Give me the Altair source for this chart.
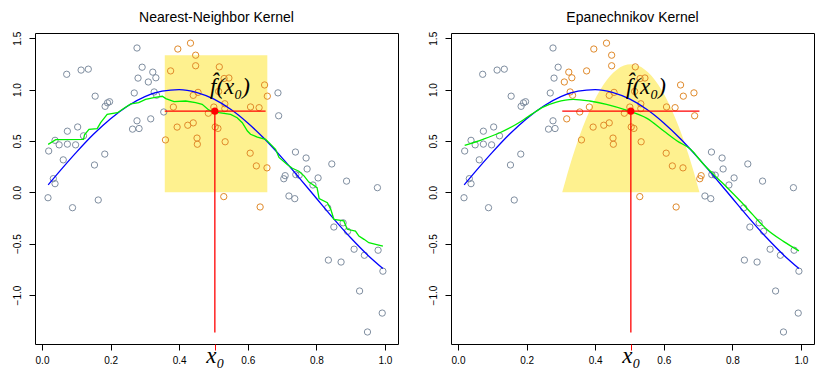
import altair as alt
import pandas as pd

# ---- data ----
pt_x = [0.0175, 0.0195, 0.033, 0.038, 0.038, 0.050, 0.062, 0.072, 0.074, 0.074,
        0.089, 0.098, 0.104, 0.114, 0.121, 0.135, 0.153, 0.155, 0.164, 0.183,
        0.184, 0.191, 0.197, 0.264, 0.269, 0.277, 0.283, 0.277, 0.280, 0.292,
        0.310, 0.317, 0.323, 0.332, 0.327, 0.334, 0.355,
        0.360, 0.375, 0.383, 0.394, 0.396, 0.425, 0.433, 0.441, 0.441, 0.448,
        0.448, 0.452, 0.453, 0.455, 0.485, 0.501, 0.505, 0.513, 0.515, 0.517,
        0.530, 0.531, 0.545, 0.533, 0.533, 0.534, 0.607, 0.608, 0.625, 0.633,
        0.636, 0.649, 0.656, 0.657,
        0.688, 0.690, 0.705, 0.709, 0.720, 0.737, 0.739, 0.740, 0.750, 0.770,
        0.773, 0.790, 0.805, 0.833, 0.835, 0.845, 0.851, 0.872, 0.878, 0.888,
        0.891, 0.910, 0.926, 0.940, 0.949, 0.978, 0.980, 0.992, 0.994]
pt_y = [-0.053, 0.402, 0.133, 0.084, 0.506, 0.462, 0.316, 1.149, 0.595, 0.469,
        -0.150, 0.462, 0.636, 1.190, 0.550, 1.199, 0.266, 0.936, -0.075, 0.372,
        0.837, 0.871, 0.882, 0.615, 0.967, 0.696, 0.621, 1.405, 1.112, 1.218,
        1.074, 0.715, 1.170, 1.115, 0.977, 0.945, 0.782,
        0.510, 1.182, 0.830, 0.635, 1.395, 0.653, 1.452, 0.676, 0.944, 1.335,
        1.232, 0.528, 0.468, 0.973, 0.770, 0.830, 0.636, 0.622, 0.982, 1.221,
        -0.042, 1.108, 1.113, 0.862, 0.815, 0.492, 0.381, 0.831, 0.257, 0.824,
        -0.143, 1.045, 0.238, 0.936,
        0.968, 0.745, 0.132, 0.162, -0.036, -0.062, 0.392, 0.172, 0.167, 0.334,
        0.227, 0.071, 0.140, -0.152, -0.660, 0.276, -0.338, -0.679, -0.297, 0.109,
        -0.380, -0.554, -0.961, -0.613, -1.360, 0.045, -0.564, -1.176, -0.768]

true_x = [0.018, 0.05, 0.10, 0.15, 0.20, 0.25, 0.30, 0.35, 0.40, 0.45, 0.50,
          0.55, 0.60, 0.65, 0.70, 0.75, 0.80, 0.85, 0.90, 0.95, 0.994]
true_y = [0.072, 0.199, 0.389, 0.565, 0.717, 0.841, 0.932, 0.985, 1.000, 0.974, 0.909,
          0.808, 0.675, 0.516, 0.335, 0.141, -0.058, -0.256, -0.443, -0.612, -0.742]

knn_x = [0.018, 0.040, 0.121, 0.124, 0.137, 0.161, 0.171, 0.190, 0.220, 0.239,
         0.259, 0.282, 0.302, 0.326, 0.351, 0.361, 0.385, 0.419, 0.448, 0.467,
         0.487, 0.516, 0.550, 0.569, 0.584, 0.599, 0.608, 0.628, 0.652, 0.667,
         0.681, 0.691, 0.715, 0.730, 0.749, 0.764, 0.778, 0.788, 0.802, 0.808,
         0.832, 0.842, 0.851, 0.880, 0.890, 0.914, 0.924, 0.939, 0.953, 0.973, 0.994]
knn_y = [0.467, 0.512, 0.515, 0.560, 0.613, 0.620, 0.678, 0.759, 0.775, 0.818,
         0.860, 0.873, 0.905, 0.921, 0.935, 0.912, 0.882, 0.889, 0.873, 0.857,
         0.800, 0.775, 0.759, 0.726, 0.678, 0.597, 0.565, 0.538, 0.516, 0.467,
         0.419, 0.340, 0.270, 0.234, 0.205, 0.160, 0.100, 0.078, 0.045, -0.060,
         -0.101, -0.166, -0.263, -0.279, -0.360, -0.377, -0.426, -0.458, -0.491, -0.506, -0.523]

epa_x = [0.0195, 0.073, 0.122, 0.170, 0.214, 0.248, 0.287, 0.336, 0.384, 0.433,
         0.491, 0.551, 0.600, 0.639, 0.678, 0.716, 0.755, 0.785, 0.823, 0.860,
         0.900, 0.950, 0.994]
epa_y = [0.457, 0.516, 0.580, 0.662, 0.759, 0.830, 0.879, 0.905, 0.889, 0.857,
         0.800, 0.720, 0.597, 0.500, 0.419, 0.273, 0.142, 0.045, -0.085, -0.220,
         -0.360, -0.480, -0.570]

kern_x = [0.304, 0.324, 0.344, 0.364, 0.384, 0.404, 0.424, 0.444, 0.464, 0.484, 0.504,
          0.524, 0.544, 0.564, 0.584, 0.604, 0.624, 0.644, 0.664, 0.684, 0.704]
kern_y = [0.0, 0.237, 0.449, 0.635, 0.797, 0.935, 1.047, 1.134, 1.196, 1.234, 1.246,
          1.234, 1.196, 1.134, 1.047, 0.935, 0.797, 0.635, 0.449, 0.237, 0.0]

x0 = 0.504
fhat = 0.79
knn_box = [0.358, 0.657, 0.0, 1.334]
knn_seg = [0.358, 0.652]
epa_seg = [0.304, 0.704]
knn_window = [0.357, 0.660]
epa_window = [0.300, 0.715]
vline_bottom = -1.365
titles = ["Nearest-Neighbor Kernel", "Epanechnikov Kernel"]
x_ticks = [0.0, 0.2, 0.4, x0, 0.6, 0.8, 1.0]
y_ticks = [-1.0, -0.5, 0.0, 0.5, 1.0, 1.5]

# ---- styling ----
GRAY = "#7f8ea0"
ORANGE = "#e08a2b"
YELLOW = "#fef18f"
W, H = 363, 311

xscale = alt.Scale(domain=[-0.0204, 1.038], nice=False, zero=False)
yscale = alt.Scale(domain=[-1.477, 1.551], nice=False, zero=False)
is_x0 = "abs(datum.value - %s) < 0.001" % x0

xaxis = alt.Axis(
    values=x_ticks, title=None, grid=False, domain=False,
    labelExpr="abs(datum.value - %s) < 0.001 ? 'x\u2080' : format(datum.value, '.1f')" % x0,
    labelFontSize={"condition": {"test": is_x0, "value": 23}, "value": 10},
    labelFont={"condition": {"test": is_x0, "value": "Liberation Serif"}, "value": "Liberation Sans"},
    labelFontStyle={"condition": {"test": is_x0, "value": "italic"}, "value": "normal"},
    labelBaseline={"condition": {"test": is_x0, "value": "middle"}, "value": "top"},
    tickColor={"condition": {"test": is_x0, "value": "red"}, "value": "black"},
    tickSize=6, labelPadding=5, labelColor="black", minExtent=20, maxExtent=20,
    labelFlush=False, labelOverlap=False,
)
yaxis = alt.Axis(
    values=y_ticks, format=".1f", title=None, grid=False, domain=False,
    labelAngle=270, labelAlign="center", labelBaseline="bottom",
    labelFontSize=10, labelFont="Liberation Sans", labelColor="black",
    tickSize=6, tickColor="black", labelPadding=7, minExtent=23, maxExtent=23,
    labelFlush=False, labelOverlap=False,
)

pts = pd.DataFrame({"x": pt_x, "y": pt_y})
truth = pd.DataFrame({"x": true_x, "y": true_y})


def X(field="x"):
    return alt.X(f"{field}:Q", scale=xscale, axis=xaxis)


def Y(field="y"):
    return alt.Y(f"{field}:Q", scale=yscale, axis=yaxis)


def panel(title, window, shade, fit_x, fit_y, seg):
    points = alt.Chart(pts).mark_point(shape="circle", filled=False, size=40, strokeWidth=1, opacity=1).encode(
        x=X(), y=Y(),
        stroke=alt.condition(
            f"datum.x >= {window[0]} && datum.x <= {window[1]}",
            alt.value(ORANGE), alt.value(GRAY)),
    )
    blue = alt.Chart(truth).mark_line(color="#0000ff", strokeWidth=1.3, interpolate="monotone").encode(x=X(), y=Y())
    green = alt.Chart(pd.DataFrame({"x": fit_x, "y": fit_y})).mark_line(
        color="#00ee00", strokeWidth=1.3,
        interpolate="linear" if shade is None else "monotone").encode(x=X(), y=Y())
    hseg = alt.Chart(pd.DataFrame({"x": [seg[0]], "x2": [seg[1]], "y": [fhat]})).mark_rule(
        color="red", strokeWidth=1.3).encode(x=X(), x2="x2:Q", y=Y())
    vseg = alt.Chart(pd.DataFrame({"x": [x0], "y": [fhat], "y2": [vline_bottom]})).mark_rule(
        color="red", strokeWidth=1.3).encode(x=X(), y=Y(), y2="y2:Q")
    dot = alt.Chart(pd.DataFrame({"x": [x0], "y": [fhat]})).mark_circle(
        color="red", size=50, opacity=1).encode(x=X(), y=Y())
    label = alt.Chart(pd.DataFrame({"x": [0.490], "y": [0.955], "t": ["f\u0302(x\u2080)"]})).mark_text(
        font="Liberation Serif", fontStyle="italic", fontSize=23, align="left",
        baseline="alphabetic", color="black").encode(x=X(), y=Y(), text="t:N")
    if shade is None:
        bg = alt.Chart(pd.DataFrame({"x": [knn_box[0]], "x2": [knn_box[1]],
                                     "y": [knn_box[2]], "y2": [knn_box[3]]})).mark_rect(
            color=YELLOW, opacity=1).encode(x=X(), x2="x2:Q", y=Y(), y2="y2:Q")
    else:
        bg = alt.Chart(pd.DataFrame({"x": shade[0], "y": shade[1]})).mark_area(
            color=YELLOW, opacity=1, interpolate="monotone").encode(
            x=X(), y=Y(), y2=alt.datum(0))
    return alt.layer(bg, points, blue, green, hseg, vseg, dot, label).properties(
        width=W, height=H,
        title=alt.TitleParams(title, fontSize=14, font="Liberation Sans", fontWeight="normal",
                              anchor="middle", frame="group", offset=6, color="black"),
    )


left = panel(titles[0], knn_window, None, knn_x, knn_y, knn_seg)
right = panel(titles[1], epa_window, (kern_x, kern_y), epa_x, epa_y, epa_seg)

chart = alt.hconcat(left, right, spacing=28).configure_view(
    stroke="black", strokeWidth=1
).properties(padding={"left": 3, "top": 2, "right": 5, "bottom": 5}, background="white")

chart.save("out.html", embed_options={"renderer": "svg", "actions": False})
